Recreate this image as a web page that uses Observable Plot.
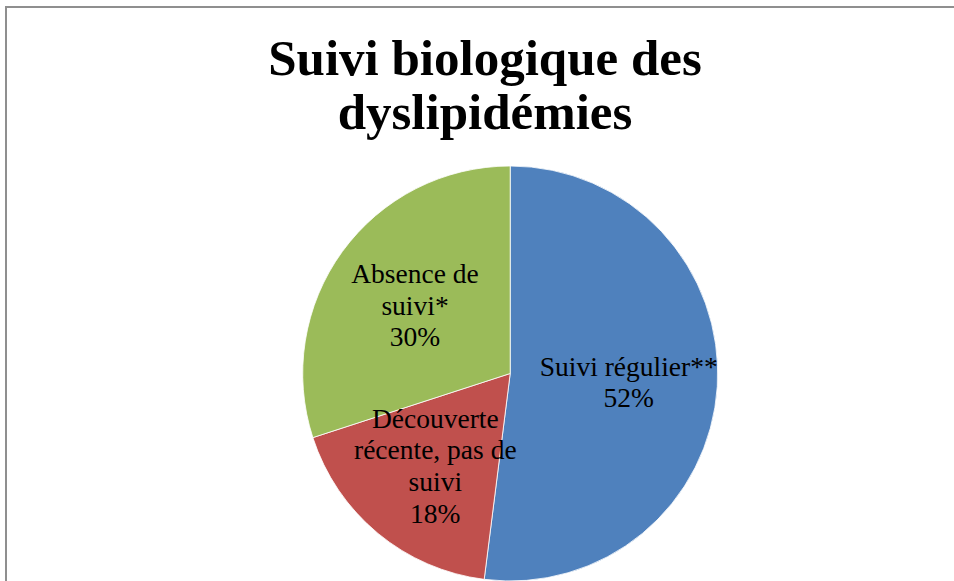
<!DOCTYPE html>
<html>
<head>
<meta charset="utf-8">
<script src="https://cdn.jsdelivr.net/npm/d3@7"></script>
<script src="https://cdn.jsdelivr.net/npm/@observablehq/plot@0.6"></script>
<style>
  html, body { margin: 0; padding: 0; background: #fff; overflow: hidden; }
  #page { position: relative; width: 954px; height: 581px; overflow: hidden; }
  #frame { position: absolute; left: 5px; top: 6px; width: 1200px; height: 800px;
           border-left: 2px solid #8f8f8f; border-top: 2px solid #8f8f8f; }
  #title { position: absolute; left: 0; top: 31px; width: 970px; text-align: center;
           font-family: "Liberation Serif", serif; font-weight: bold; font-size: 51px; line-height: 54px; color: #000; }
  #chart { position: absolute; left: 0; top: 150px; }
</style>
</head>
<body>
<div id="page">
  <div id="frame"></div>
  <div id="title">Suivi biologique des<br>dyslipidémies</div>
  <div id="chart"></div>
</div>
<script>
// ---- data ----
const categories = ["Suivi régulier**", "Découverte récente, pas de suivi", "Absence de suivi*"];
const labelLines = ["Suivi régulier**", "Découverte\nrécente, pas de\nsuivi", "Absence de\nsuivi*"];
const values = [52, 18, 30];
const sliceColors = ["#4F81BD", "#C0504D", "#9BBB59"];

// ---- layout ----
const W = 954, H = 431;
const cx = 510.2, cy = 223.5, R = 207.5;
const labelRadius = 0.57;

const data = categories.map((c, i) => ({category: c, lines: labelLines[i], value: values[i]}));
const total = d3.sum(values);
const pie = d3.pie().sort(null).value(d => d.value)(data);
const labels = pie.map(a => {
  const mid = (a.startAngle + a.endAngle) / 2;
  return {
    x: labelRadius * Math.sin(mid),
    y: -labelRadius * Math.cos(mid),
    text: a.data.lines + "\n" + Math.round(a.data.value / total * 100) + "%"
  };
});

const color = Plot.scale({color: {type: "ordinal", domain: categories, range: sliceColors}});

const pieMark = (index, scales) => {
  const x0 = scales.x(0), y0 = scales.y(0), r = scales.x(1) - scales.x(0);
  const arc = d3.arc().innerRadius(0).outerRadius(r);
  const g = d3.create("svg:g").attr("transform", `translate(${x0},${y0})`);
  g.selectAll("path").data(pie).join("path")
    .attr("d", arc)
    .attr("fill", d => color.apply(d.data.category))
    .attr("stroke", "#ffffff")
    .attr("stroke-width", 0.8)
    .attr("stroke-linejoin", "round");
  return g.node();
};

const chart = Plot.plot({
  width: W,
  height: H,
  margin: 0,
  x: {domain: [-1, 1], range: [cx - R, cx + R], axis: null},
  y: {domain: [-1, 1], range: [cy - R, cy + R], axis: null},
  style: {background: "transparent", overflow: "visible"},
  marks: [
    pieMark,
    Plot.text(labels, {
      x: "x", y: "y", text: "text",
      fontFamily: "Liberation Serif", fontSize: 27.5, lineHeight: 1.15,
      fill: "#000", textAnchor: "middle"
    })
  ]
});
document.getElementById("chart").appendChild(chart);
</script>
</body>
</html>
